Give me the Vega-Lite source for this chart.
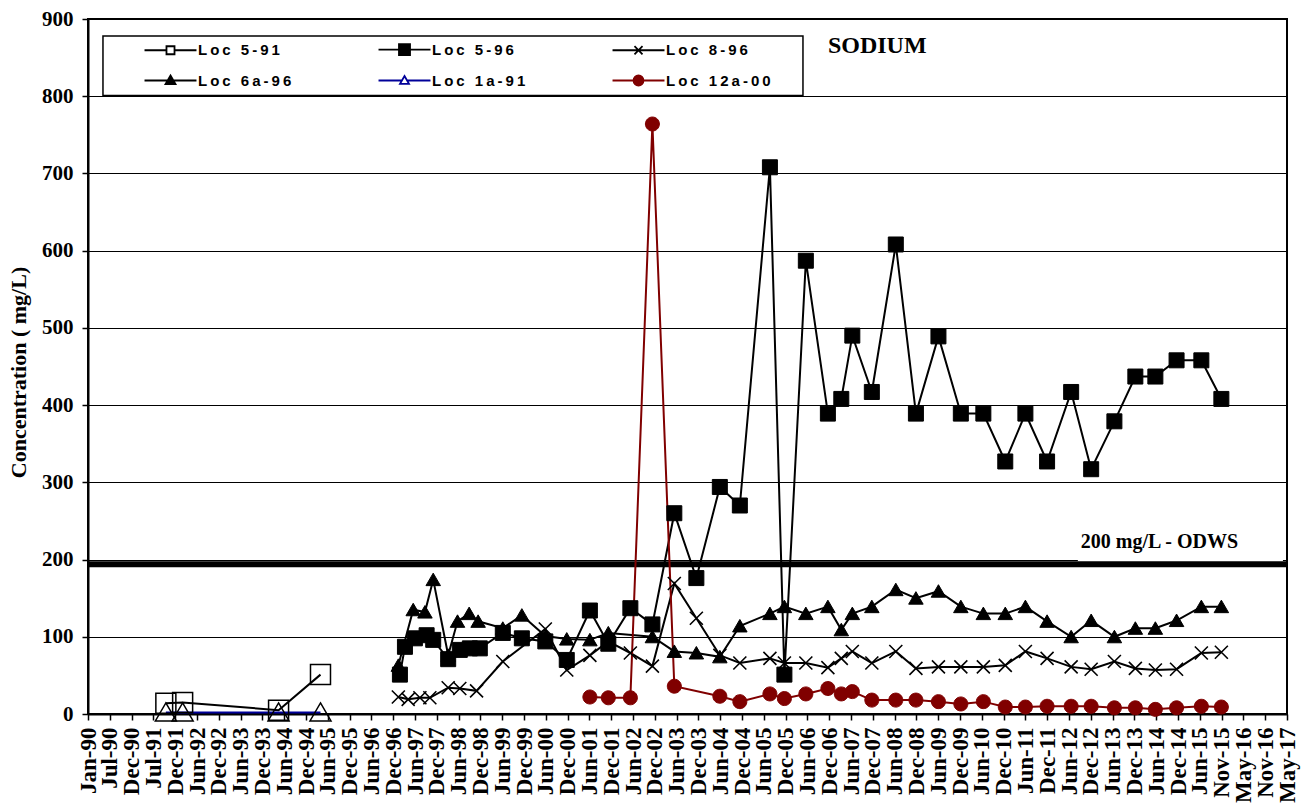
{
  "$schema": "https://vega.github.io/schema/vega-lite/v6.json",
  "width": 1199,
  "height": 695,
  "autosize": {"type": "none"},
  "padding": {"left": 88, "top": 19, "right": 18, "bottom": 95},
  "background": "white",
  "config": {
    "view": {"stroke": "black", "strokeWidth": 2},
    "font": "Liberation Serif"
  },
  "datasets": {
    "sodium": [
      {"s": "Loc 5-91", "d": "1991-10-13", "v": 14},
      {"s": "Loc 5-91", "d": "1992-03-01", "v": 15},
      {"s": "Loc 5-91", "d": "1994-05-11", "v": 5},
      {"s": "Loc 5-91", "d": "1995-04-26", "v": 51},

      {"s": "Loc 5-96", "d": "1997-02-17", "v": 51},
      {"s": "Loc 5-96", "d": "1997-03-31", "v": 87},
      {"s": "Loc 5-96", "d": "1997-06-22", "v": 98},
      {"s": "Loc 5-96", "d": "1997-09-28", "v": 102},
      {"s": "Loc 5-96", "d": "1997-11-22", "v": 96},
      {"s": "Loc 5-96", "d": "1998-03-27", "v": 71},
      {"s": "Loc 5-96", "d": "1998-07-02", "v": 83},
      {"s": "Loc 5-96", "d": "1998-09-24", "v": 85},
      {"s": "Loc 5-96", "d": "1998-12-16", "v": 85},
      {"s": "Loc 5-96", "d": "1999-06-26", "v": 105},
      {"s": "Loc 5-96", "d": "1999-12-02", "v": 98},
      {"s": "Loc 5-96", "d": "2000-06-15", "v": 94},
      {"s": "Loc 5-96", "d": "2000-12-11", "v": 70},
      {"s": "Loc 5-96", "d": "2001-06-22", "v": 134},
      {"s": "Loc 5-96", "d": "2001-11-23", "v": 91},
      {"s": "Loc 5-96", "d": "2002-05-26", "v": 137},
      {"s": "Loc 5-96", "d": "2002-11-26", "v": 116},
      {"s": "Loc 5-96", "d": "2003-05-28", "v": 260},
      {"s": "Loc 5-96", "d": "2003-11-28", "v": 176},
      {"s": "Loc 5-96", "d": "2004-06-11", "v": 294},
      {"s": "Loc 5-96", "d": "2004-11-25", "v": 270},
      {"s": "Loc 5-96", "d": "2005-08-03", "v": 708},
      {"s": "Loc 5-96", "d": "2005-12-02", "v": 51},
      {"s": "Loc 5-96", "d": "2006-05-30", "v": 587},
      {"s": "Loc 5-96", "d": "2006-11-30", "v": 389},
      {"s": "Loc 5-96", "d": "2007-03-22", "v": 408},
      {"s": "Loc 5-96", "d": "2007-06-22", "v": 490},
      {"s": "Loc 5-96", "d": "2007-12-02", "v": 417},
      {"s": "Loc 5-96", "d": "2008-06-19", "v": 608},
      {"s": "Loc 5-96", "d": "2008-12-04", "v": 389},
      {"s": "Loc 5-96", "d": "2009-06-10", "v": 489},
      {"s": "Loc 5-96", "d": "2009-12-14", "v": 389},
      {"s": "Loc 5-96", "d": "2010-06-20", "v": 389},
      {"s": "Loc 5-96", "d": "2010-12-20", "v": 327},
      {"s": "Loc 5-96", "d": "2011-06-06", "v": 389},
      {"s": "Loc 5-96", "d": "2011-12-04", "v": 327},
      {"s": "Loc 5-96", "d": "2012-06-22", "v": 417},
      {"s": "Loc 5-96", "d": "2012-12-06", "v": 317},
      {"s": "Loc 5-96", "d": "2013-06-18", "v": 379},
      {"s": "Loc 5-96", "d": "2013-12-10", "v": 437},
      {"s": "Loc 5-96", "d": "2014-05-26", "v": 437},
      {"s": "Loc 5-96", "d": "2014-11-19", "v": 458},
      {"s": "Loc 5-96", "d": "2015-06-14", "v": 458},
      {"s": "Loc 5-96", "d": "2015-11-28", "v": 408},

      {"s": "Loc 8-96", "d": "1997-02-04", "v": 22},
      {"s": "Loc 8-96", "d": "1997-04-27", "v": 19},
      {"s": "Loc 8-96", "d": "1997-08-03", "v": 21},
      {"s": "Loc 8-96", "d": "1997-10-25", "v": 21},
      {"s": "Loc 8-96", "d": "1998-03-27", "v": 34},
      {"s": "Loc 8-96", "d": "1998-07-02", "v": 33},
      {"s": "Loc 8-96", "d": "1998-11-19", "v": 30},
      {"s": "Loc 8-96", "d": "1999-06-26", "v": 68},
      {"s": "Loc 8-96", "d": "2000-06-15", "v": 110},
      {"s": "Loc 8-96", "d": "2000-12-11", "v": 57},
      {"s": "Loc 8-96", "d": "2001-06-22", "v": 76},
      {"s": "Loc 8-96", "d": "2001-11-23", "v": 94},
      {"s": "Loc 8-96", "d": "2002-05-26", "v": 79},
      {"s": "Loc 8-96", "d": "2002-11-26", "v": 62},
      {"s": "Loc 8-96", "d": "2003-05-28", "v": 169},
      {"s": "Loc 8-96", "d": "2003-11-28", "v": 124},
      {"s": "Loc 8-96", "d": "2004-06-11", "v": 76},
      {"s": "Loc 8-96", "d": "2004-11-25", "v": 66},
      {"s": "Loc 8-96", "d": "2005-08-03", "v": 72},
      {"s": "Loc 8-96", "d": "2005-12-02", "v": 66},
      {"s": "Loc 8-96", "d": "2006-05-30", "v": 66},
      {"s": "Loc 8-96", "d": "2006-11-30", "v": 60},
      {"s": "Loc 8-96", "d": "2007-03-22", "v": 72},
      {"s": "Loc 8-96", "d": "2007-06-22", "v": 81},
      {"s": "Loc 8-96", "d": "2007-12-02", "v": 66},
      {"s": "Loc 8-96", "d": "2008-06-19", "v": 81},
      {"s": "Loc 8-96", "d": "2008-12-04", "v": 59},
      {"s": "Loc 8-96", "d": "2009-06-10", "v": 61},
      {"s": "Loc 8-96", "d": "2009-12-14", "v": 61},
      {"s": "Loc 8-96", "d": "2010-06-20", "v": 61},
      {"s": "Loc 8-96", "d": "2010-12-20", "v": 63},
      {"s": "Loc 8-96", "d": "2011-06-06", "v": 81},
      {"s": "Loc 8-96", "d": "2011-12-04", "v": 72},
      {"s": "Loc 8-96", "d": "2012-06-22", "v": 61},
      {"s": "Loc 8-96", "d": "2012-12-06", "v": 58},
      {"s": "Loc 8-96", "d": "2013-06-18", "v": 68},
      {"s": "Loc 8-96", "d": "2013-12-10", "v": 59},
      {"s": "Loc 8-96", "d": "2014-05-26", "v": 57},
      {"s": "Loc 8-96", "d": "2014-11-19", "v": 58},
      {"s": "Loc 8-96", "d": "2015-06-14", "v": 79},
      {"s": "Loc 8-96", "d": "2015-11-28", "v": 80},

      {"s": "Loc 6a-96", "d": "1997-02-04", "v": 63},
      {"s": "Loc 6a-96", "d": "1997-06-08", "v": 135},
      {"s": "Loc 6a-96", "d": "1997-09-14", "v": 132},
      {"s": "Loc 6a-96", "d": "1997-11-22", "v": 174},
      {"s": "Loc 6a-96", "d": "1998-03-27", "v": 76},
      {"s": "Loc 6a-96", "d": "1998-06-13", "v": 120},
      {"s": "Loc 6a-96", "d": "1998-09-18", "v": 130},
      {"s": "Loc 6a-96", "d": "1998-12-02", "v": 120},
      {"s": "Loc 6a-96", "d": "1999-06-26", "v": 111},
      {"s": "Loc 6a-96", "d": "1999-12-02", "v": 128},
      {"s": "Loc 6a-96", "d": "2000-06-15", "v": 101},
      {"s": "Loc 6a-96", "d": "2000-12-11", "v": 97},
      {"s": "Loc 6a-96", "d": "2001-06-22", "v": 96},
      {"s": "Loc 6a-96", "d": "2001-11-23", "v": 105},
      {"s": "Loc 6a-96", "d": "2002-11-26", "v": 100},
      {"s": "Loc 6a-96", "d": "2003-05-28", "v": 81},
      {"s": "Loc 6a-96", "d": "2003-11-28", "v": 79},
      {"s": "Loc 6a-96", "d": "2004-06-11", "v": 74},
      {"s": "Loc 6a-96", "d": "2004-11-25", "v": 114},
      {"s": "Loc 6a-96", "d": "2005-08-03", "v": 130},
      {"s": "Loc 6a-96", "d": "2005-12-02", "v": 139},
      {"s": "Loc 6a-96", "d": "2006-05-30", "v": 130},
      {"s": "Loc 6a-96", "d": "2006-11-30", "v": 139},
      {"s": "Loc 6a-96", "d": "2007-03-22", "v": 109},
      {"s": "Loc 6a-96", "d": "2007-06-22", "v": 130},
      {"s": "Loc 6a-96", "d": "2007-12-02", "v": 139},
      {"s": "Loc 6a-96", "d": "2008-06-19", "v": 161},
      {"s": "Loc 6a-96", "d": "2008-12-04", "v": 150},
      {"s": "Loc 6a-96", "d": "2009-06-10", "v": 159},
      {"s": "Loc 6a-96", "d": "2009-12-14", "v": 139},
      {"s": "Loc 6a-96", "d": "2010-06-20", "v": 130},
      {"s": "Loc 6a-96", "d": "2010-12-20", "v": 130},
      {"s": "Loc 6a-96", "d": "2011-06-06", "v": 139},
      {"s": "Loc 6a-96", "d": "2011-12-04", "v": 120},
      {"s": "Loc 6a-96", "d": "2012-06-22", "v": 100},
      {"s": "Loc 6a-96", "d": "2012-12-06", "v": 121},
      {"s": "Loc 6a-96", "d": "2013-06-18", "v": 100},
      {"s": "Loc 6a-96", "d": "2013-12-10", "v": 111},
      {"s": "Loc 6a-96", "d": "2014-05-26", "v": 111},
      {"s": "Loc 6a-96", "d": "2014-11-19", "v": 121},
      {"s": "Loc 6a-96", "d": "2015-06-14", "v": 139},
      {"s": "Loc 6a-96", "d": "2015-11-28", "v": 139},

      {"s": "Loc 1a-91", "d": "1991-10-13", "v": 2},
      {"s": "Loc 1a-91", "d": "1992-03-01", "v": 2},
      {"s": "Loc 1a-91", "d": "1994-05-11", "v": 2},
      {"s": "Loc 1a-91", "d": "1995-04-26", "v": 2},

      {"s": "Loc 12a-00", "d": "2001-06-22", "v": 22},
      {"s": "Loc 12a-00", "d": "2001-11-23", "v": 21},
      {"s": "Loc 12a-00", "d": "2002-05-26", "v": 21},
      {"s": "Loc 12a-00", "d": "2002-11-26", "v": 764},
      {"s": "Loc 12a-00", "d": "2003-05-28", "v": 36},
      {"s": "Loc 12a-00", "d": "2004-06-11", "v": 23},
      {"s": "Loc 12a-00", "d": "2004-11-25", "v": 16},
      {"s": "Loc 12a-00", "d": "2005-08-03", "v": 26},
      {"s": "Loc 12a-00", "d": "2005-12-02", "v": 20},
      {"s": "Loc 12a-00", "d": "2006-05-30", "v": 26},
      {"s": "Loc 12a-00", "d": "2006-11-30", "v": 33},
      {"s": "Loc 12a-00", "d": "2007-03-22", "v": 26},
      {"s": "Loc 12a-00", "d": "2007-06-22", "v": 29},
      {"s": "Loc 12a-00", "d": "2007-12-02", "v": 18},
      {"s": "Loc 12a-00", "d": "2008-06-19", "v": 18},
      {"s": "Loc 12a-00", "d": "2008-12-04", "v": 18},
      {"s": "Loc 12a-00", "d": "2009-06-10", "v": 16},
      {"s": "Loc 12a-00", "d": "2009-12-14", "v": 13},
      {"s": "Loc 12a-00", "d": "2010-06-20", "v": 16},
      {"s": "Loc 12a-00", "d": "2010-12-20", "v": 9},
      {"s": "Loc 12a-00", "d": "2011-06-06", "v": 9},
      {"s": "Loc 12a-00", "d": "2011-12-04", "v": 10},
      {"s": "Loc 12a-00", "d": "2012-06-22", "v": 10},
      {"s": "Loc 12a-00", "d": "2012-12-06", "v": 10},
      {"s": "Loc 12a-00", "d": "2013-06-18", "v": 8},
      {"s": "Loc 12a-00", "d": "2013-12-10", "v": 8},
      {"s": "Loc 12a-00", "d": "2014-05-26", "v": 6},
      {"s": "Loc 12a-00", "d": "2014-11-19", "v": 8},
      {"s": "Loc 12a-00", "d": "2015-06-14", "v": 10},
      {"s": "Loc 12a-00", "d": "2015-11-28", "v": 9}
    ]
  },
  "encoding": {
    "x": {
      "type": "temporal",
      "scale": {
        "type": "utc",
        "domain": [
          {"year": 1990, "month": 1, "date": 1, "utc": true},
          {"year": 2017, "month": 5, "date": 29, "utc": true}
        ],
        "nice": false
      },
      "axis": {
        "title": null,
        "grid": false,
        "labelExpr": "utcFormat(datum.value, '%b-%y')",
        "values": [631152000000, 646876800000, 662601600000, 678326400000, 694051200000, 709776000000, 725500800000, 741225600000, 756950400000, 772675200000, 788400000000, 804124800000, 819849600000, 835574400000, 851299200000, 867024000000, 882748800000, 898473600000, 914198400000, 929923200000, 945648000000, 961372800000, 977097600000, 992822400000, 1008547200000, 1024272000000, 1039996800000, 1055721600000, 1071446400000, 1087171200000, 1102896000000, 1118620800000, 1134345600000, 1150070400000, 1165795200000, 1181520000000, 1197244800000, 1212969600000, 1228694400000, 1244419200000, 1260144000000, 1275868800000, 1291593600000, 1307318400000, 1323043200000, 1338768000000, 1354492800000, 1370217600000, 1385942400000, 1401667200000, 1417392000000, 1433116800000, 1448841600000, 1464566400000, 1480291200000, 1496016000000],
        "labelAngle": 270,
        "labelAlign": "right",
        "labelBaseline": "middle",
        "labelOverlap": false,
        "labelBound": false,
        "labelFlush": false,
        "labelFont": "Liberation Serif",
        "labelFontWeight": "bold",
        "labelFontSize": 23,
        "labelColor": "black",
        "labelPadding": 7,
        "tickColor": "black",
        "tickSize": 6,
        "tickWidth": 1.5,
        "domainColor": "black",
        "domainWidth": 2
      }
    },
    "y": {
      "type": "quantitative",
      "scale": {"domain": [0, 900], "nice": false, "zero": true},
      "axis": {
        "title": "Concentration ( mg/L)",
        "titleFont": "Liberation Serif",
        "titleFontWeight": "bold",
        "titleFontSize": 22,
        "titleColor": "black",
        "titleAngle": 270,
        "titleAlign": "center",
        "titleBaseline": "middle",
        "titleX": -70,
        "titleY": 353,
        "values": [0, 100, 200, 300, 400, 500, 600, 700, 800, 900],
        "grid": true,
        "gridColor": "black",
        "gridWidth": 1,
        "gridOpacity": 1,
        "labelFont": "Liberation Serif",
        "labelFontWeight": "bold",
        "labelFontSize": 21,
        "labelColor": "black",
        "labelPadding": 9,
        "tickColor": "black",
        "tickSize": 6,
        "tickWidth": 1.5,
        "domainColor": "black",
        "domainWidth": 2
      }
    }
  },
  "layer": [
    {
      "data": {"values": [{}]},
      "mark": {"type": "rect", "fill": "white", "stroke": "black", "strokeWidth": 1.5},
      "encoding": {
        "x": {"datum": {"year": 1990, "month": 5, "date": 6, "utc": true}, "type": "temporal"},
        "x2": {"datum": {"year": 2006, "month": 5, "date": 6, "utc": true}},
        "y": {"datum": 878, "type": "quantitative"},
        "y2": {"datum": 801}
      }
    },
    {
      "data": {"values": [{}]},
      "mark": {"type": "rect", "fill": "white", "stroke": null},
      "encoding": {
        "x": {"datum": {"year": 2012, "month": 8, "date": 17, "utc": true}, "type": "temporal"},
        "x2": {"datum": {"year": 2017, "month": 4, "date": 25, "utc": true}},
        "y": {"datum": 198, "type": "quantitative"},
        "y2": {"datum": 240}
      }
    },
    {
      "data": {"values": [{}]},
      "mark": {"type": "rule", "color": "black", "strokeWidth": 6},
      "encoding": {
        "y": {"datum": 194, "type": "quantitative"}
      }
    },
    {
      "data": {"values": [{}]},
      "mark": {"type": "text", "text": "200 mg/L - ODWS", "align": "left", "baseline": "middle", "font": "Liberation Serif", "fontWeight": "bold", "fontSize": 20, "color": "black"},
      "encoding": {
        "x": {"datum": {"year": 2012, "month": 9, "date": 11, "utc": true}, "type": "temporal"},
        "y": {"datum": 223, "type": "quantitative"}
      }
    },
    {
      "data": {"values": [{}]},
      "mark": {"type": "text", "text": "SODIUM", "align": "left", "baseline": "middle", "font": "Liberation Serif", "fontWeight": "bold", "fontSize": 24, "color": "black"},
      "encoding": {
        "x": {"datum": {"year": 2006, "month": 11, "date": 30, "utc": true}, "type": "temporal"},
        "y": {"datum": 865, "type": "quantitative"}
      }
    },
    {
      "data": {"name": "sodium"},
      "mark": {"type": "line", "strokeWidth": 2},
      "encoding": {
        "x": {"field": "d", "type": "temporal"},
        "y": {"field": "v", "type": "quantitative"},
        "color": {
          "field": "s",
          "type": "nominal",
          "scale": {
            "domain": ["Loc 5-91", "Loc 5-96", "Loc 8-96", "Loc 6a-96", "Loc 1a-91", "Loc 12a-00"],
            "range": ["black", "black", "black", "black", "#000099", "#800000"]
          },
          "legend": {
            "title": null,
            "orient": "none",
            "legendX": 57,
            "legendY": 23,
            "direction": "horizontal",
            "columns": 3,
            "gridAlign": "all",
            "columnPadding": 71,
            "rowPadding": 12,
            "padding": 0,
            "symbolSize": 144,
            "symbolStrokeWidth": 1.8,
            "labelOffset": 38,
            "labelFont": "Liberation Sans",
            "labelFontSize": 15,
            "labelFontWeight": "bold",
            "labelColor": "black",
            "labelLimit": 250,
            "labelExpr": "join(split(datum.label, ''), '\u2009')",
            "encode": {
              "symbols": {
                "update": {
                  "shape": {"signal": "['M-1.33,0H2.33M3.67,0H7.33M2.33,-0.67H3.67V0.67H2.33Z','M-1.33,0H7.33M2.08,-0.92H3.92V0.92H2.08Z','M-1.33,0H7.33M2.33,-0.67L3.67,0.67M2.33,0.67L3.67,-0.67','M-1.33,0H7.33M3,-0.83L3.83,0.6H2.17Z','M-1.33,0H2.57M3.43,0H7.33M3,-0.75L3.75,0.55H2.25Z','M-1.33,0H7.33M2.17,0A0.83,0.83 0 1,0 3.83,0A0.83,0.83 0 1,0 2.17,0Z'][indexof(['Loc 5-91','Loc 5-96','Loc 8-96','Loc 6a-96','Loc 1a-91','Loc 12a-00'], datum.value)]"},
                  "fill": {"signal": "['white','black','transparent','black','white','#800000'][indexof(['Loc 5-91','Loc 5-96','Loc 8-96','Loc 6a-96','Loc 1a-91','Loc 12a-00'], datum.value)]"},
                  "stroke": {"signal": "['black','black','black','black','#000099','#800000'][indexof(['Loc 5-91','Loc 5-96','Loc 8-96','Loc 6a-96','Loc 1a-91','Loc 12a-00'], datum.value)]"},
                  "opacity": {"value": 1}
                }
              }
            }
          }
        }
      }
    },
    {
      "data": {"name": "sodium"},
      "transform": [{"filter": "datum.s === 'Loc 5-91'"}],
      "mark": {"type": "point", "shape": "M-2,-2H2V2H-2Z", "size": 100, "strokeWidth": 1.5, "fill": "transparent", "stroke": "black", "opacity": 1},
      "encoding": {
        "x": {"field": "d", "type": "temporal"},
        "y": {"field": "v", "type": "quantitative"}
      }
    },
    {
      "data": {"name": "sodium"},
      "transform": [{"filter": "datum.s === 'Loc 5-96'"}],
      "mark": {"type": "point", "shape": "M-1.5,-1.5H1.5V1.5H-1.5Z", "size": 100, "strokeWidth": 1, "fill": "black", "stroke": "black", "opacity": 1},
      "encoding": {
        "x": {"field": "d", "type": "temporal"},
        "y": {"field": "v", "type": "quantitative"}
      }
    },
    {
      "data": {"name": "sodium"},
      "transform": [{"filter": "datum.s === 'Loc 8-96'"}],
      "mark": {"type": "point", "shape": "M-1.3,-1.3L1.3,1.3M-1.3,1.3L1.3,-1.3", "size": 100, "strokeWidth": 1.6, "fill": "transparent", "stroke": "black", "opacity": 1},
      "encoding": {
        "x": {"field": "d", "type": "temporal"},
        "y": {"field": "v", "type": "quantitative"}
      }
    },
    {
      "data": {"name": "sodium"},
      "transform": [{"filter": "datum.s === 'Loc 6a-96'"}],
      "mark": {"type": "point", "shape": "M0,-1.3L1.45,1.2H-1.45Z", "size": 100, "strokeWidth": 1, "fill": "black", "stroke": "black", "opacity": 1},
      "encoding": {
        "x": {"field": "d", "type": "temporal"},
        "y": {"field": "v", "type": "quantitative"}
      }
    },
    {
      "data": {"name": "sodium"},
      "transform": [{"filter": "datum.s === 'Loc 1a-91'"}],
      "mark": {"type": "point", "shape": "M0,-1.9L2.1,1.7H-2.1Z", "size": 100, "strokeWidth": 1.5, "fill": "transparent", "stroke": "black", "opacity": 1},
      "encoding": {
        "x": {"field": "d", "type": "temporal"},
        "y": {"field": "v", "type": "quantitative"}
      }
    },
    {
      "data": {"name": "sodium"},
      "transform": [{"filter": "datum.s === 'Loc 12a-00'"}],
      "mark": {"type": "point", "shape": "M-1.4,0A1.4,1.4 0 1,0 1.4,0A1.4,1.4 0 1,0 -1.4,0Z", "size": 100, "strokeWidth": 1, "fill": "#800000", "stroke": "#800000", "opacity": 1},
      "encoding": {
        "x": {"field": "d", "type": "temporal"},
        "y": {"field": "v", "type": "quantitative"}
      }
    }
  ]
}
